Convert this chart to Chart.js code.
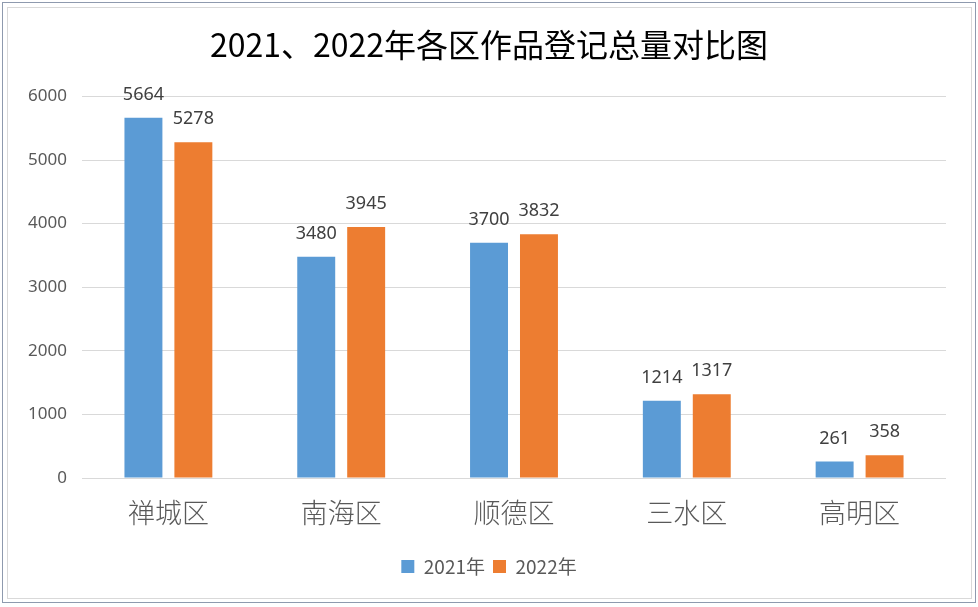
<!DOCTYPE html>
<html>
<head>
<meta charset="utf-8">
<script src="https://cdn.jsdelivr.net/npm/chart.js@4/dist/chart.umd.min.js"></script>
<style>
  html, body { margin: 0; padding: 0; background: #fff; }
  #wrap { position: relative; width: 978px; height: 607px; }
  #frame1 { position: absolute; left: 2px; top: 2px; right: 2px; bottom: 4px; border: 1px solid #8e9aae; pointer-events: none; }
  #frame2 { position: absolute; left: 7px; top: 7px; right: 6px; bottom: 8px; border: 1px solid #d9d9d9; pointer-events: none; }
</style>
</head>
<body>
<div id="wrap">
  <canvas id="chart" width="978" height="607"></canvas>
  <div id="frame1"></div>
  <div id="frame2"></div>
</div>
<script>
const categories = ["禅城区", "南海区", "顺德区", "三水区", "高明区"];
const values2021 = [5664, 3480, 3700, 1214, 261];
const values2022 = [5278, 3945, 3832, 1317, 358];
const yTicks = [0, 1000, 2000, 3000, 4000, 5000, 6000];

const numFont = "'Noto Sans', 'Open Sans', sans-serif";
const cjkFont = "'Noto Sans CJK SC', sans-serif";

// draws the value above each bar
const barLabels = {
  id: "barLabels",
  afterDatasetsDraw(chart) {
    const ctx = chart.ctx;
    ctx.save();
    ctx.font = "18px " + numFont;
    ctx.fillStyle = "#404040";
    ctx.textAlign = "center";
    ctx.textBaseline = "bottom";
    chart.data.datasets.forEach((ds, i) => {
      chart.getDatasetMeta(i).data.forEach((bar, j) => {
        ctx.fillText(ds.data[j], bar.x, bar.y - 14);
      });
    });
    ctx.restore();
  }
};

new Chart(document.getElementById("chart"), {
  type: "bar",
  data: {
    labels: categories,
    datasets: [
      { label: "2021年", data: values2021, backgroundColor: "#5b9bd5" },
      { label: "2022年", data: values2022, backgroundColor: "#ed7d31" }
    ]
  },
  options: {
    responsive: false,
    animation: false,
    devicePixelRatio: 1,
    datasets: { bar: { categoryPercentage: 0.578, barPercentage: 0.76 } },
    layout: { padding: { left: 0, right: 0, top: 0, bottom: 21 } },
    plugins: {
      title: {
        display: true,
        text: "2021、2022年各区作品登记总量对比图",
        color: "#000",
        font: { family: cjkFont, size: 32, weight: "normal" },
        padding: { top: 26, bottom: 32 }
      },
      legend: {
        position: "bottom",
        labels: {
          boxWidth: 13,
          boxHeight: 13,
          padding: 8,
          color: "#595959",
          font: { family: cjkFont, size: 19 }
        }
      },
      tooltip: { enabled: false }
    },
    scales: {
      x: {
        grid: { display: false },
        border: { display: false },
        ticks: { color: "#595959", padding: 11, font: { family: cjkFont, size: 27, weight: 300 } },
        afterFit: (s) => { s.height = 71; }
      },
      y: {
        min: 0,
        max: 6000,
        afterBuildTicks: (s) => { s.ticks = yTicks.map(v => ({ value: v })); },
        grid: { color: "#d9d9d9", drawTicks: false },
        border: { display: false },
        ticks: { color: "#595959", padding: 15, font: { family: numFont, size: 17 }, callback: (v) => String(v) },
        afterFit: (s) => { s.width = 82; }
      },
      // empty right-hand axis, only used as right margin of the plot
      yRight: {
        position: "right",
        grid: { display: false },
        border: { display: false },
        ticks: { display: false },
        afterFit: (s) => { s.width = 32; }
      }
    }
  },
  plugins: [barLabels]
});
</script>
</body>
</html>
